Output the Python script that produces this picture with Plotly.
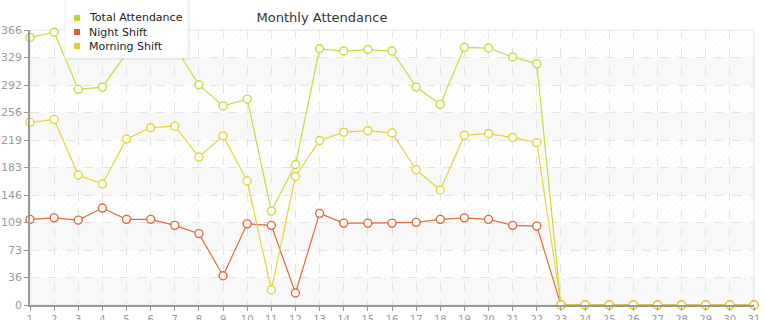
import math
import plotly.graph_objects as go

days = list(range(1, 32))
total_attendance = [356, 363, 287, 290, 335, 350, 344, 293, 265, 274, 125, 187, 341, 338, 340, 338,
                    290, 267, 343, 342, 330, 321, 0, 0, 0, 0, 0, 0, 0, 0, 0]
night_shift = [114, 116, 113, 129, 114, 114, 106, 95, 39, 108, 106, 16, 122, 109, 109, 109,
               110, 114, 116, 114, 106, 105, 0, 0, 0, 0, 0, 0, 0, 0, 0]
morning_shift = [243, 247, 173, 161, 221, 236, 238, 197, 225, 165, 20, 171, 219, 230, 232, 229,
                 180, 153, 226, 228, 223, 216, 0, 0, 0, 0, 0, 0, 0, 0, 0]

y_max = 366
y_ticks = [y_max * i / 10 for i in range(11)]
y_tick_text = [str(int(math.floor(v + 1e-9))) for v in y_ticks]

series = [
    ("Total Attendance", total_attendance, "#c4de3c", "#b9d72c"),
    ("Night Shift", night_shift, "#e2693a", "#e0602c"),
    ("Morning Shift", morning_shift, "#e3d63c", "#e0d02a"),
]

W, H = 765, 320
ML, MR, MT, MB = 30, 11, 30, 15
PW, PH = W - ML - MR, H - MT - MB


def px_x(p):
    return (p - ML) / PW


def px_y(p):
    return (H - MB - p) / PH


fig = go.Figure()

# hatched background bands
hx, hy = [], []
for i in range(10):
    if (9 - i) % 2 == 0:
        lo, hi = y_ticks[i], y_ticks[i + 1]
        hx += [days[0], days[-1], days[-1], days[0], days[0], None]
        hy += [lo, lo, hi, hi, lo, None]
fig.add_trace(go.Scatter(
    x=hx, y=hy, mode="lines", fill="toself", line=dict(width=0),
    fillcolor="rgba(0,0,0,0)",
    fillpattern=dict(shape="/", fgcolor="#e6e6e6", bgcolor="rgba(255,255,255,0)", size=5, solidity=0.15),
    hoverinfo="skip", showlegend=False, cliponaxis=True,
))

shapes = []
for i in range(10):
    if (9 - i) % 2 == 1:
        shapes.append(dict(type="rect", xref="paper", yref="y", x0=0, x1=1,
                           y0=y_ticks[i], y1=y_ticks[i + 1],
                           fillcolor="#f8f8f8", line=dict(width=0), layer="between"))
shapes.append(dict(type="rect", xref="paper", yref="paper", x0=0, x1=1, y0=0, y1=1,
                   line=dict(color="#e2e2e2", width=1), fillcolor="rgba(0,0,0,0)", layer="between"))

for name, vals, col, lcol in series:
    fig.add_trace(go.Scatter(
        x=days, y=vals, mode="lines+markers", name=name,
        line=dict(color=col, width=1.2),
        marker=dict(symbol="circle", size=8, color="white", line=dict(color=col, width=1.4)),
        cliponaxis=False, showlegend=False,
    ))

# legend drawn as shapes + text
annotations = []
shapes.append(dict(type="rect", xref="paper", yref="paper",
                   x0=px_x(67), x1=px_x(190), y0=px_y(60), y1=px_y(-3),
                   fillcolor="rgba(0,0,0,0.06)", line=dict(width=0), layer="above"))
shapes.append(dict(type="rect", xref="paper", yref="paper",
                   x0=px_x(65), x1=px_x(188), y0=px_y(58), y1=px_y(-3),
                   fillcolor="white", line=dict(color="#eeeeee", width=1), layer="above"))
for k, (name, vals, col, lcol) in enumerate(series):
    cy = 18 + 14 * k
    shapes.append(dict(type="rect", xref="paper", yref="paper",
                       x0=px_x(74), x1=px_x(80), y0=px_y(cy + 3), y1=px_y(cy - 3),
                       fillcolor=lcol, line=dict(width=0), layer="above"))
    annotations.append(dict(text=name, xref="paper", yref="paper", x=px_x(87), y=px_y(cy),
                            xanchor="left", yanchor="middle", showarrow=False,
                            font=dict(family="DejaVu Sans", size=11, color="#222222")))

fig.update_layout(
    width=W, height=H,
    margin=dict(l=ML, r=MR, t=MT, b=MB, autoexpand=False),
    paper_bgcolor="white", plot_bgcolor="white",
    title=dict(text="Monthly Attendance", x=322 / W, xanchor="center", y=1 - 17 / H, yanchor="middle",
               font=dict(family="DejaVu Sans", size=13, color="#333333")),
    font=dict(family="DejaVu Sans", size=10, color="#999999"),
    shapes=shapes,
    annotations=annotations,
    showlegend=False,
)
fig.update_xaxes(range=[days[0], days[-1]], tickmode="array", tickvals=days,
                 ticktext=[str(d) for d in days], automargin=False,
                 showgrid=True, gridcolor="#e4e4e4", griddash="dash", gridwidth=1,
                 showline=True, linecolor="#999999", linewidth=1.5,
                 ticks="outside", ticklen=4, tickcolor="#999999",
                 zeroline=False, tickfont=dict(size=10, color="#999999"))
fig.update_yaxes(range=[0, y_max], tickmode="array", tickvals=y_ticks, ticktext=y_tick_text,
                 automargin=False,
                 showgrid=True, gridcolor="#e4e4e4", griddash="dash", gridwidth=1,
                 showline=True, linecolor="#999999", linewidth=1.5,
                 ticks="outside", ticklen=4, tickcolor="#999999",
                 zeroline=False, tickfont=dict(size=11, color="#999999"))

fig.write_html("out.html")
